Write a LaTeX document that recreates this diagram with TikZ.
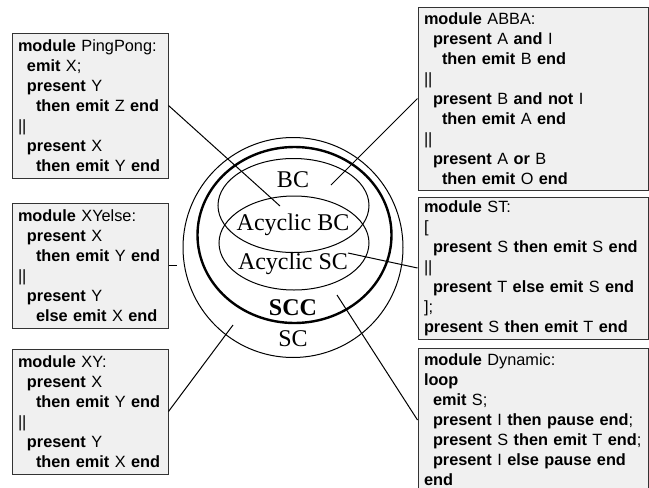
\documentclass[tikz,border=0pt]{standalone}
\usepackage{fontspec}
\newfontfamily\codefont{Liberation Sans}
\newfontfamily\venfont{Liberation Serif}
\usepackage{tikz}
\usetikzlibrary{calc}
\tikzset{
    module/.style={%
        draw=black!80, fill=black!6, line width=1pt,
        text width=#1, inner xsep=6pt, inner ysep=3pt, align=left,
        font=\codefont\fontsize{16.3}{20}\selectfont
    },
    setlabel/.style={inner sep=0pt, font=\venfont\fontsize{24}{24}\selectfont},
    setline/.style={line width=1pt}
}
\newcommand{\kw}[1]{\textbf{#1}}
\newcommand{\ind}{\hspace*{9pt}}

\begin{document}
\begin{tikzpicture}[x=1pt,y=-1pt]
    \useasboundingbox (0,0) rectangle (649,488);

    % the classes
    \draw[setline] (293,247.5) circle (110);
    \draw[line width=2.4pt] (294.5,235) ellipse (97 and 88);
    \draw[setline] (293.5,205.5) ellipse (75.5 and 47);
    \draw[setline] (294,243) ellipse (75 and 47);

    \draw (293,180) node[setlabel](bc){BC};
    \draw (293,225) node[setlabel](abc){Acyclic BC};
    \draw (293,264) node[setlabel](asc){Acyclic SC};
    \draw (293,308) node[setlabel](scc){\textbf{SCC}};
    \draw (293,339) node[setlabel](sc){SC};

    % example programs, left
    \draw (90,105.5) node[module=144pt, minimum height=145pt](pingpong){%
        \kw{module} PingPong:\\
        \ind\kw{emit} X;\\
        \ind\kw{present} Y\\
        \ind\ind\kw{then emit} Z \kw{end}\\
        ||\\
        \ind\kw{present} X\\
        \ind\ind\kw{then emit} Y \kw{end}};
    \draw (90,265.5) node[module=144pt, minimum height=125pt](xyelse){%
        \kw{module} XYelse:\\
        \ind\kw{present} X\\
        \ind\ind\kw{then emit} Y \kw{end}\\
        ||\\
        \ind\kw{present} Y\\
        \ind\ind\kw{else emit} X \kw{end}};
    \draw (90,411.5) node[module=144pt, minimum height=125pt](xy){%
        \kw{module} XY:\\
        \ind\kw{present} X\\
        \ind\ind\kw{then emit} Y \kw{end}\\
        ||\\
        \ind\kw{present} Y\\
        \ind\ind\kw{then emit} X \kw{end}};

    % example programs, right
    \draw (533,98.5) node[module=218pt, minimum height=183pt](abba){%
        \kw{module} ABBA:\\
        \ind\kw{present} A \kw{and} I\\
        \ind\ind\kw{then emit} B \kw{end}\\
        ||\\
        \ind\kw{present} B \kw{and not} I\\
        \ind\ind\kw{then emit} A \kw{end}\\
        ||\\
        \ind\kw{present} A \kw{or} B\\
        \ind\ind\kw{then emit} O \kw{end}};
    \draw (533,268) node[module=218pt, minimum height=142pt](st){%
        \kw{module} ST:\\
        {[}\\
        \ind\kw{present} S \kw{then emit} S \kw{end}\\
        ||\\
        \ind\kw{present} T \kw{else emit} S \kw{end}\\
        ];\\
        \kw{present} S \kw{then emit} T \kw{end}};
    \draw (533,420) node[module=218pt, minimum height=144pt](dynamic){%
        \kw{module} Dynamic:\\
        \kw{loop}\\
        \ind\kw{emit} S;\\
        \ind\kw{present} I \kw{then pause end};\\
        \ind\kw{present} S \kw{then emit} T \kw{end};\\
        \ind\kw{present} I \kw{else pause end}\\
        \kw{end}};

    % pointers into the classes
    \coordinate (in bc) at (331,185);
    \coordinate (in abc) at (280,206);
    \coordinate (in asc) at (348,253);
    \coordinate (in scc) at (337,295);
    \coordinate (in sc) at (233,325);
    \coordinate (at sc) at (177,265.5);

    \draw[setline] (pingpong.east) -- (in abc);
    \draw[setline] (xyelse.east) -- (at sc);
    \draw[setline] (xy.east) -- (in sc);
    \draw[setline] (abba.west) -- (in bc);
    \draw[setline] (st.west) -- (in asc);
    \draw[setline] (dynamic.west) -- (in scc);
\end{tikzpicture}
\end{document}
